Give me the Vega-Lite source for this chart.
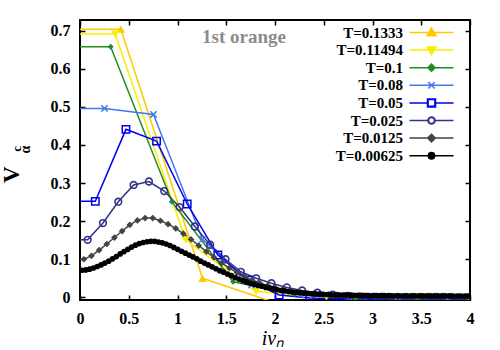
{
 "$schema": "https://vega.github.io/schema/vega-lite/v6.json",
 "width": 390, "height": 280,
 "autosize": "none",
 "padding": {"left": 80, "top": 20, "right": 30, "bottom": 50},
 "background": "white",
 "config": {
  "view": {"stroke": "black", "strokeWidth": 2},
  "axis": {"grid": false, "domain": false, "tickColor": "black", "tickWidth": 1.5, "tickSize": -5, "labelFont": "Liberation Serif", "labelFontWeight": "bold", "labelFontSize": 16, "labelColor": "black", "labelFlush": false}
 },
 "datasets": {"curves": [
  {"T":"T=0.1333","x":-0.4189,"v":0.704},{"T":"T=0.1333","x":0.4189,"v":0.704},{"T":"T=0.1333","x":1.2566,"v":0.050},{"T":"T=0.1333","x":2.0944,"v":-0.022},{"T":"T=0.1333","x":2.9322,"v":-0.012},{"T":"T=0.1333","x":3.7699,"v":-0.009},{"T":"T=0.1333","x":4.6077,"v":-0.008},
  {"T":"T=0.11494","x":-0.3611,"v":0.691},{"T":"T=0.11494","x":0.3611,"v":0.691},{"T":"T=0.11494","x":1.0833,"v":0.151},{"T":"T=0.11494","x":1.8055,"v":0.015},{"T":"T=0.11494","x":2.5277,"v":0.001},{"T":"T=0.11494","x":3.2499,"v":-0.002},{"T":"T=0.11494","x":3.9721,"v":-0.002},{"T":"T=0.11494","x":4.6943,"v":-0.002},
  {"T":"T=0.1","x":-0.3142,"v":0.658},{"T":"T=0.1","x":0.3142,"v":0.658},{"T":"T=0.1","x":0.9425,"v":0.251},{"T":"T=0.1","x":1.5708,"v":0.041},{"T":"T=0.1","x":2.1991,"v":0.008},{"T":"T=0.1","x":2.8274,"v":-0.004},{"T":"T=0.1","x":3.4558,"v":-0.004},{"T":"T=0.1","x":4.0841,"v":-0.004},
  {"T":"T=0.08","x":-0.2513,"v":0.496},{"T":"T=0.08","x":0.2513,"v":0.496},{"T":"T=0.08","x":0.754,"v":0.480},{"T":"T=0.08","x":1.2566,"v":0.152},{"T":"T=0.08","x":1.7593,"v":0.032},{"T":"T=0.08","x":2.2619,"v":0.006},{"T":"T=0.08","x":2.7646,"v":-0.001},{"T":"T=0.08","x":3.2673,"v":-0.003},{"T":"T=0.08","x":3.7699,"v":-0.003},{"T":"T=0.08","x":4.2726,"v":-0.003},
  {"T":"T=0.05","x":-0.1571,"v":0.252},{"T":"T=0.05","x":0.1571,"v":0.252},{"T":"T=0.05","x":0.4712,"v":0.441},{"T":"T=0.05","x":0.7854,"v":0.410},{"T":"T=0.05","x":1.0996,"v":0.245},{"T":"T=0.05","x":1.4137,"v":0.111},{"T":"T=0.05","x":1.7279,"v":0.045},{"T":"T=0.05","x":2.042,"v":0.006},{"T":"T=0.05","x":2.3562,"v":-0.002},{"T":"T=0.05","x":2.6704,"v":-0.004},{"T":"T=0.05","x":2.9845,"v":-0.004},{"T":"T=0.05","x":3.2987,"v":-0.004},{"T":"T=0.05","x":3.6128,"v":-0.004},{"T":"T=0.05","x":3.927,"v":-0.004},{"T":"T=0.05","x":4.2412,"v":-0.004},
  {"T":"T=0.025","x":-0.0785,"v":0.151},{"T":"T=0.025","x":0.0785,"v":0.151},{"T":"T=0.025","x":0.2356,"v":0.195},{"T":"T=0.025","x":0.3927,"v":0.251},{"T":"T=0.025","x":0.5498,"v":0.295},{"T":"T=0.025","x":0.7069,"v":0.304},{"T":"T=0.025","x":0.8639,"v":0.279},{"T":"T=0.025","x":1.021,"v":0.237},{"T":"T=0.025","x":1.1781,"v":0.186},{"T":"T=0.025","x":1.3352,"v":0.138},{"T":"T=0.025","x":1.4923,"v":0.100},{"T":"T=0.025","x":1.6493,"v":0.067},{"T":"T=0.025","x":1.8064,"v":0.050},{"T":"T=0.025","x":1.9635,"v":0.037},{"T":"T=0.025","x":2.1206,"v":0.026},{"T":"T=0.025","x":2.2777,"v":0.018},{"T":"T=0.025","x":2.4347,"v":0.012},{"T":"T=0.025","x":2.5918,"v":0.007},{"T":"T=0.025","x":2.7489,"v":0.004},{"T":"T=0.025","x":2.906,"v":0.001},{"T":"T=0.025","x":3.0631,"v":-0.001},{"T":"T=0.025","x":3.2201,"v":-0.003},{"T":"T=0.025","x":3.3772,"v":-0.004},{"T":"T=0.025","x":3.5343,"v":-0.004},{"T":"T=0.025","x":3.6914,"v":-0.004},{"T":"T=0.025","x":3.8485,"v":-0.004},{"T":"T=0.025","x":4.0055,"v":-0.004},
  {"T":"T=0.0125","x":-0.0393,"v":0.100},{"T":"T=0.0125","x":0.0393,"v":0.100},{"T":"T=0.0125","x":0.1178,"v":0.109},{"T":"T=0.0125","x":0.1963,"v":0.124},{"T":"T=0.0125","x":0.2749,"v":0.140},{"T":"T=0.0125","x":0.3534,"v":0.157},{"T":"T=0.0125","x":0.432,"v":0.174},{"T":"T=0.0125","x":0.5105,"v":0.190},{"T":"T=0.0125","x":0.589,"v":0.202},{"T":"T=0.0125","x":0.6676,"v":0.208},{"T":"T=0.0125","x":0.7461,"v":0.208},{"T":"T=0.0125","x":0.8247,"v":0.201},{"T":"T=0.0125","x":0.9032,"v":0.192},{"T":"T=0.0125","x":0.9817,"v":0.181},{"T":"T=0.0125","x":1.0603,"v":0.167},{"T":"T=0.0125","x":1.1388,"v":0.152},{"T":"T=0.0125","x":1.2174,"v":0.136},{"T":"T=0.0125","x":1.2959,"v":0.120},{"T":"T=0.0125","x":1.3744,"v":0.105},{"T":"T=0.0125","x":1.453,"v":0.090},{"T":"T=0.0125","x":1.5315,"v":0.077},{"T":"T=0.0125","x":1.6101,"v":0.065},{"T":"T=0.0125","x":1.6886,"v":0.054},{"T":"T=0.0125","x":1.7671,"v":0.045},{"T":"T=0.0125","x":1.8457,"v":0.037},{"T":"T=0.0125","x":1.9242,"v":0.031},{"T":"T=0.0125","x":2.0028,"v":0.025},{"T":"T=0.0125","x":2.0813,"v":0.021},{"T":"T=0.0125","x":2.1598,"v":0.017},{"T":"T=0.0125","x":2.2384,"v":0.014},{"T":"T=0.0125","x":2.3169,"v":0.012},{"T":"T=0.0125","x":2.3955,"v":0.010},{"T":"T=0.0125","x":2.474,"v":0.0085},{"T":"T=0.0125","x":2.5525,"v":0.0075},{"T":"T=0.0125","x":2.6311,"v":0.0066},{"T":"T=0.0125","x":2.7096,"v":0.006},{"T":"T=0.0125","x":2.7882,"v":0.0055},{"T":"T=0.0125","x":2.8667,"v":0.0051},{"T":"T=0.0125","x":2.9452,"v":0.0048},{"T":"T=0.0125","x":3.0238,"v":0.0046},{"T":"T=0.0125","x":3.1023,"v":0.0044},{"T":"T=0.0125","x":3.1809,"v":0.0042},{"T":"T=0.0125","x":3.2594,"v":0.0041},{"T":"T=0.0125","x":3.3379,"v":0.004},{"T":"T=0.0125","x":3.4165,"v":0.0039},{"T":"T=0.0125","x":3.495,"v":0.0038},{"T":"T=0.0125","x":3.5736,"v":0.0037},{"T":"T=0.0125","x":3.6521,"v":0.0037},{"T":"T=0.0125","x":3.7306,"v":0.0036},{"T":"T=0.0125","x":3.8092,"v":0.0036},{"T":"T=0.0125","x":3.8877,"v":0.0035},{"T":"T=0.0125","x":3.9663,"v":0.0035},{"T":"T=0.0125","x":4.0448,"v":0.0035},
  {"T":"T=0.00625","x":-0.0196,"v":0.071},{"T":"T=0.00625","x":0.0196,"v":0.071},{"T":"T=0.00625","x":0.0589,"v":0.072},{"T":"T=0.00625","x":0.0982,"v":0.074},{"T":"T=0.00625","x":0.1374,"v":0.077},{"T":"T=0.00625","x":0.1767,"v":0.081},{"T":"T=0.00625","x":0.216,"v":0.085},{"T":"T=0.00625","x":0.2553,"v":0.090},{"T":"T=0.00625","x":0.2945,"v":0.095},{"T":"T=0.00625","x":0.3338,"v":0.101},{"T":"T=0.00625","x":0.3731,"v":0.107},{"T":"T=0.00625","x":0.4123,"v":0.114},{"T":"T=0.00625","x":0.4516,"v":0.120},{"T":"T=0.00625","x":0.4909,"v":0.126},{"T":"T=0.00625","x":0.5301,"v":0.132},{"T":"T=0.00625","x":0.5694,"v":0.137},{"T":"T=0.00625","x":0.6087,"v":0.141},{"T":"T=0.00625","x":0.648,"v":0.144},{"T":"T=0.00625","x":0.6872,"v":0.146},{"T":"T=0.00625","x":0.7265,"v":0.147},{"T":"T=0.00625","x":0.7658,"v":0.147},{"T":"T=0.00625","x":0.805,"v":0.145},{"T":"T=0.00625","x":0.8443,"v":0.143},{"T":"T=0.00625","x":0.8836,"v":0.140},{"T":"T=0.00625","x":0.9228,"v":0.136},{"T":"T=0.00625","x":0.9621,"v":0.131},{"T":"T=0.00625","x":1.0014,"v":0.126},{"T":"T=0.00625","x":1.0407,"v":0.121},{"T":"T=0.00625","x":1.0799,"v":0.116},{"T":"T=0.00625","x":1.1192,"v":0.111},{"T":"T=0.00625","x":1.1585,"v":0.106},{"T":"T=0.00625","x":1.1977,"v":0.101},{"T":"T=0.00625","x":1.237,"v":0.095},{"T":"T=0.00625","x":1.2763,"v":0.090},{"T":"T=0.00625","x":1.3155,"v":0.085},{"T":"T=0.00625","x":1.3548,"v":0.080},{"T":"T=0.00625","x":1.3941,"v":0.075},{"T":"T=0.00625","x":1.4334,"v":0.070},{"T":"T=0.00625","x":1.4726,"v":0.066},{"T":"T=0.00625","x":1.5119,"v":0.061},{"T":"T=0.00625","x":1.5512,"v":0.057},{"T":"T=0.00625","x":1.5904,"v":0.052},{"T":"T=0.00625","x":1.6297,"v":0.048},{"T":"T=0.00625","x":1.669,"v":0.044},{"T":"T=0.00625","x":1.7082,"v":0.041},{"T":"T=0.00625","x":1.7475,"v":0.037},{"T":"T=0.00625","x":1.7868,"v":0.034},{"T":"T=0.00625","x":1.8261,"v":0.031},{"T":"T=0.00625","x":1.8653,"v":0.029},{"T":"T=0.00625","x":1.9046,"v":0.026},{"T":"T=0.00625","x":1.9439,"v":0.024},{"T":"T=0.00625","x":1.9831,"v":0.022},{"T":"T=0.00625","x":2.0224,"v":0.020},{"T":"T=0.00625","x":2.0617,"v":0.018},{"T":"T=0.00625","x":2.1009,"v":0.017},{"T":"T=0.00625","x":2.1402,"v":0.015},{"T":"T=0.00625","x":2.1795,"v":0.014},{"T":"T=0.00625","x":2.2188,"v":0.013},{"T":"T=0.00625","x":2.258,"v":0.012},{"T":"T=0.00625","x":2.2973,"v":0.011},{"T":"T=0.00625","x":2.3366,"v":0.010},{"T":"T=0.00625","x":2.3758,"v":0.0095},{"T":"T=0.00625","x":2.4151,"v":0.009},{"T":"T=0.00625","x":2.4544,"v":0.0085},{"T":"T=0.00625","x":2.4936,"v":0.008},{"T":"T=0.00625","x":2.5329,"v":0.0075},{"T":"T=0.00625","x":2.5722,"v":0.007},{"T":"T=0.00625","x":2.6115,"v":0.0067},{"T":"T=0.00625","x":2.6507,"v":0.0064},{"T":"T=0.00625","x":2.69,"v":0.0061},{"T":"T=0.00625","x":2.7293,"v":0.0058},{"T":"T=0.00625","x":2.7685,"v":0.0056},{"T":"T=0.00625","x":2.8078,"v":0.0054},{"T":"T=0.00625","x":2.8471,"v":0.0052},{"T":"T=0.00625","x":2.8863,"v":0.005},{"T":"T=0.00625","x":2.9256,"v":0.0049},{"T":"T=0.00625","x":2.9649,"v":0.0048},{"T":"T=0.00625","x":3.0042,"v":0.0047},{"T":"T=0.00625","x":3.0434,"v":0.0046},{"T":"T=0.00625","x":3.0827,"v":0.0045},{"T":"T=0.00625","x":3.122,"v":0.0044},{"T":"T=0.00625","x":3.1612,"v":0.0043},{"T":"T=0.00625","x":3.2005,"v":0.0042},{"T":"T=0.00625","x":3.2398,"v":0.0042},{"T":"T=0.00625","x":3.279,"v":0.0041},{"T":"T=0.00625","x":3.3183,"v":0.0041},{"T":"T=0.00625","x":3.3576,"v":0.004},{"T":"T=0.00625","x":3.3969,"v":0.004},{"T":"T=0.00625","x":3.4361,"v":0.004},{"T":"T=0.00625","x":3.4754,"v":0.0039},{"T":"T=0.00625","x":3.5147,"v":0.0039},{"T":"T=0.00625","x":3.5539,"v":0.0039},{"T":"T=0.00625","x":3.5932,"v":0.0038},{"T":"T=0.00625","x":3.6325,"v":0.0038},{"T":"T=0.00625","x":3.6717,"v":0.0038},{"T":"T=0.00625","x":3.711,"v":0.0037},{"T":"T=0.00625","x":3.7503,"v":0.0037},{"T":"T=0.00625","x":3.7896,"v":0.0037},{"T":"T=0.00625","x":3.8288,"v":0.0036},{"T":"T=0.00625","x":3.8681,"v":0.0036},{"T":"T=0.00625","x":3.9074,"v":0.0036},{"T":"T=0.00625","x":3.9466,"v":0.0035},{"T":"T=0.00625","x":3.9859,"v":0.0035},{"T":"T=0.00625","x":4.0252,"v":0.0035}
 ],
 "labels": [
  {"label": "1st orange", "lx": 1.682, "ly": 0.668}
 ]},
 "layer": [
  {"data": {"name": "curves"},
   "mark": {"type": "line", "clip": true, "strokeWidth": 1.5},
   "encoding": {
    "x": {"field": "x", "type": "quantitative", "scale": {"domain": [0, 4], "nice": false, "zero": false}, "axis": {"orient": "bottom", "values": [0,0.5,1,1.5,2,2.5,3,3.5,4], "format": ".1~f", "labelPadding": 15, "title": null}},
    "y": {"field": "v", "type": "quantitative", "scale": {"domain": [-0.007, 0.728], "nice": false, "zero": false}, "axis": {"orient": "left", "values": [0,0.1,0.2,0.3,0.4,0.5,0.6,0.7], "format": ".1~f", "labelPadding": 15, "title": null}},
    "color": {"field": "T", "type": "nominal",
     "scale": {"domain": ["T=0.1333","T=0.11494","T=0.1","T=0.08","T=0.05","T=0.025","T=0.0125","T=0.00625"],
               "range": ["#ffc800","#f5f000","#228b22","#4477ee","#0000ee","#333388","#444444","#000000"]},
     "legend": {
      "orient": "none", "legendX": 344, "legendY": 5, "title": null, "padding": 0,
      "labelAlign": "right", "labelOffset": -36, "labelFont": "Liberation Serif", "labelFontWeight": "bold", "labelFontSize": 15, "labelColor": "black", "labelLimit": 300,
      "symbolSize": 16, "rowPadding": 1.6,
      "encode": {"symbols": {"update": {
        "shape": {"signal": "datum.value === 'T=0.1333' ? 'M-11,0H11M0,-2.2L2.2,1.6L-2.2,1.6Z' : datum.value === 'T=0.11494' ? 'M-11,0H11M0,2.2L2.2,-1.6L-2.2,-1.6Z' : datum.value === 'T=0.1' ? 'M-11,0H11M0,-1.8L1.8,0L0,1.8L-1.8,0Z' : datum.value === 'T=0.08' ? 'M-11,0H11M-1.6,-1.6L1.6,1.6M-1.6,1.6L1.6,-1.6' : datum.value === 'T=0.05' ? 'M-11,0H-2M2,0H11M-2,-2H2V2H-2ZM-1.7,-1.7V1.7H1.7V-1.7Z' : datum.value === 'T=0.025' ? 'M-11,0H-1.8M1.8,0H11M-1.8,0A1.8,1.8 0 1,0 1.8,0A1.8,1.8 0 1,0 -1.8,0ZM-1.5,0A1.5,1.5 0 1,1 1.5,0A1.5,1.5 0 1,1 -1.5,0Z' : datum.value === 'T=0.0125' ? 'M-11,0H11M0,-1.9L1.9,0L0,1.9L-1.9,0Z' : 'M-11,0H11M-1.6,0A1.6,1.6 0 1,0 1.6,0A1.6,1.6 0 1,0 -1.6,0Z'"},
        "size": {"value": 16},
        "stroke": {"scale": "color", "field": "value"},
        "strokeWidth": {"value": 1.5},
        "fill": {"signal": "datum.value === 'T=0.05' || datum.value === 'T=0.025' ? 'white' : scale('color', datum.value)"},
        "opacity": {"value": 1}
      }}}
    }}
   }},
  {"data": {"name": "curves"}, "transform": [{"filter": "datum.T === 'T=0.1333'"}],
   "mark": {"type": "point", "shape": "triangle-up", "filled": true, "size": 70, "opacity": 1, "clip": true},
   "encoding": {
    "x": {"field": "x", "type": "quantitative", "axis": {"orient": "top", "values": [0,0.5,1,1.5,2,2.5,3,3.5,4], "labels": false, "title": null}},
    "y": {"field": "v", "type": "quantitative", "axis": {"orient": "right", "values": [0,0.1,0.2,0.3,0.4,0.5,0.6,0.7], "labels": false, "title": null}},
    "color": {"field": "T", "type": "nominal"}}},
  {"data": {"name": "curves"}, "transform": [{"filter": "datum.T === 'T=0.11494'"}],
   "mark": {"type": "point", "shape": "triangle-down", "filled": true, "size": 70, "opacity": 1, "clip": true},
   "encoding": {"x": {"field": "x", "type": "quantitative", "axis": null}, "y": {"field": "v", "type": "quantitative", "axis": null}, "color": {"field": "T", "type": "nominal"}}},
  {"data": {"name": "curves"}, "transform": [{"filter": "datum.T === 'T=0.1'"}],
   "mark": {"type": "point", "shape": "diamond", "filled": true, "size": 36, "opacity": 1, "clip": true},
   "encoding": {"x": {"field": "x", "type": "quantitative", "axis": null}, "y": {"field": "v", "type": "quantitative", "axis": null}, "color": {"field": "T", "type": "nominal"}}},
  {"data": {"name": "curves"}, "transform": [{"filter": "datum.T === 'T=0.08'"}],
   "mark": {"type": "point", "shape": "M-1,-1L1,1M-1,1L1,-1", "filled": false, "size": 40, "strokeWidth": 1.5, "opacity": 1, "clip": true},
   "encoding": {"x": {"field": "x", "type": "quantitative", "axis": null}, "y": {"field": "v", "type": "quantitative", "axis": null}, "color": {"field": "T", "type": "nominal"}}},
  {"data": {"name": "curves"}, "transform": [{"filter": "datum.T === 'T=0.05'"}],
   "mark": {"type": "point", "shape": "square", "filled": false, "size": 55, "strokeWidth": 1.5, "opacity": 1, "clip": true},
   "encoding": {"x": {"field": "x", "type": "quantitative", "axis": null}, "y": {"field": "v", "type": "quantitative", "axis": null}, "color": {"field": "T", "type": "nominal"}}},
  {"data": {"name": "curves"}, "transform": [{"filter": "datum.T === 'T=0.025'"}],
   "mark": {"type": "point", "shape": "circle", "filled": false, "size": 45, "strokeWidth": 1.6, "opacity": 1, "clip": true},
   "encoding": {"x": {"field": "x", "type": "quantitative", "axis": null}, "y": {"field": "v", "type": "quantitative", "axis": null}, "color": {"field": "T", "type": "nominal"}}},
  {"data": {"name": "curves"}, "transform": [{"filter": "datum.T === 'T=0.0125'"}],
   "mark": {"type": "point", "shape": "diamond", "filled": true, "size": 45, "opacity": 1, "clip": true},
   "encoding": {"x": {"field": "x", "type": "quantitative", "axis": null}, "y": {"field": "v", "type": "quantitative", "axis": null}, "color": {"field": "T", "type": "nominal"}}},
  {"data": {"name": "curves"}, "transform": [{"filter": "datum.T === 'T=0.00625'"}],
   "mark": {"type": "point", "shape": "circle", "filled": true, "size": 32, "opacity": 1, "clip": true},
   "encoding": {"x": {"field": "x", "type": "quantitative", "axis": null}, "y": {"field": "v", "type": "quantitative", "axis": null}, "color": {"field": "T", "type": "nominal"}}},
  {"data": {"name": "labels"},
   "mark": {"type": "text", "font": "Liberation Serif", "fontWeight": "bold", "fontSize": 19, "align": "center", "baseline": "alphabetic", "color": "#8c8c8c"},
   "encoding": {"x": {"field": "lx", "type": "quantitative", "axis": null}, "y": {"field": "ly", "type": "quantitative", "axis": null}, "text": {"field": "label"}}},
  {"data": {"name": "labels"},
   "mark": {"type": "text", "text": "iνₙ", "font": "Liberation Serif", "fontStyle": "italic", "fontSize": 20, "align": "center", "baseline": "alphabetic", "color": "black"},
   "encoding": {"x": {"datum": 1.979, "type": "quantitative", "axis": null}, "y": {"datum": -0.124, "type": "quantitative", "axis": null}}},
  {"data": {"name": "labels"},
   "mark": {"type": "text", "text": "V", "font": "Liberation Serif", "fontWeight": "bold", "fontSize": 23, "angle": 270, "align": "center", "baseline": "middle", "color": "black"},
   "encoding": {"x": {"datum": -0.7, "type": "quantitative", "axis": null}, "y": {"datum": 0.322, "type": "quantitative", "axis": null}}},
  {"data": {"name": "labels"},
   "mark": {"type": "text", "text": "c", "font": "Liberation Serif", "fontWeight": "bold", "fontSize": 13, "angle": 270, "align": "center", "baseline": "middle", "color": "black"},
   "encoding": {"x": {"datum": -0.645, "type": "quantitative", "axis": null}, "y": {"datum": 0.39, "type": "quantitative", "axis": null}}},
  {"data": {"name": "labels"},
   "mark": {"type": "text", "text": "α", "font": "Liberation Serif", "fontWeight": "bold", "fontSize": 14, "angle": 270, "align": "center", "baseline": "middle", "color": "black"},
   "encoding": {"x": {"datum": -0.55, "type": "quantitative", "axis": null}, "y": {"datum": 0.388, "type": "quantitative", "axis": null}}}
 ]
}
